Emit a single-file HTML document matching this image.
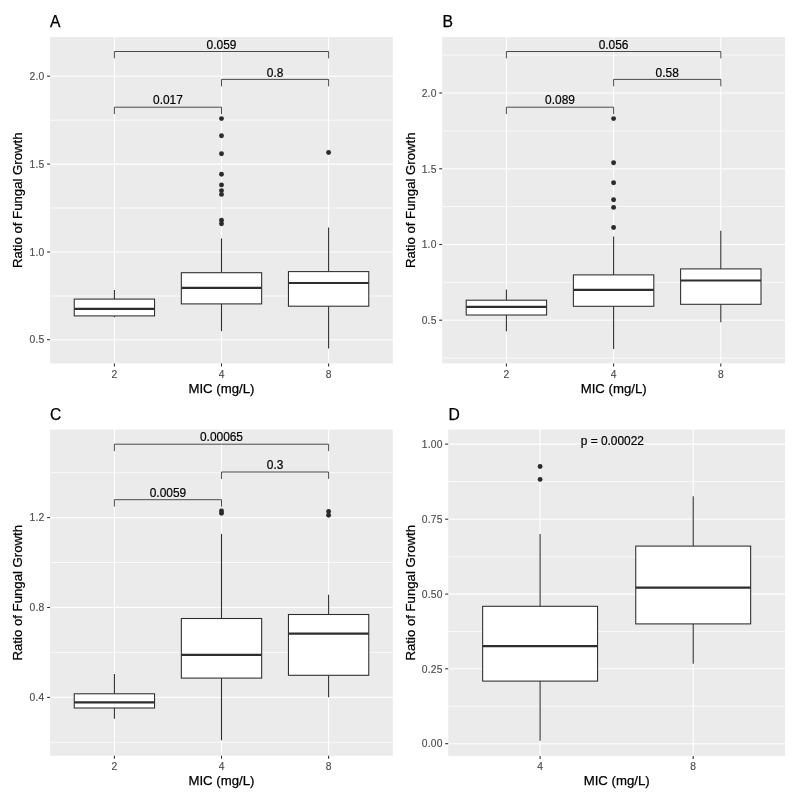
<!DOCTYPE html>
<html lang="en"><head><meta charset="utf-8"><title>Figure</title>
<style>
html,body{margin:0;padding:0;background:#fff;}
svg{display:block;font-family:"Liberation Sans", Arial, Helvetica, sans-serif;}
</style></head><body>
<svg width="796" height="795" viewBox="0 0 796 795">
<rect width="796" height="795" fill="#fff"/>
<g>
<rect x="50.1" y="37" width="342.7" height="326.4" fill="#EBEBEB"/>
<line x1="50.1" x2="392.8" y1="296" y2="296" stroke="#fff" stroke-width="0.7"/>
<line x1="50.1" x2="392.8" y1="208" y2="208" stroke="#fff" stroke-width="0.7"/>
<line x1="50.1" x2="392.8" y1="120.2" y2="120.2" stroke="#fff" stroke-width="0.7"/>
<line x1="50.1" x2="392.8" y1="339.7" y2="339.7" stroke="#fff" stroke-width="1.07"/>
<line x1="50.1" x2="392.8" y1="252" y2="252" stroke="#fff" stroke-width="1.07"/>
<line x1="50.1" x2="392.8" y1="164.1" y2="164.1" stroke="#fff" stroke-width="1.07"/>
<line x1="50.1" x2="392.8" y1="76.2" y2="76.2" stroke="#fff" stroke-width="1.07"/>
<line x1="114.4" x2="114.4" y1="37" y2="363.4" stroke="#fff" stroke-width="1.07"/>
<line x1="221.5" x2="221.5" y1="37" y2="363.4" stroke="#fff" stroke-width="1.07"/>
<line x1="328.6" x2="328.6" y1="37" y2="363.4" stroke="#fff" stroke-width="1.07"/>
<line x1="114.4" x2="114.4" y1="289.9" y2="299.1" stroke="#2e2e2e" stroke-width="1.07"/>
<line x1="114.4" x2="114.4" y1="315.9" y2="317.2" stroke="#2e2e2e" stroke-width="1.07"/>
<rect x="74.25" y="299.1" width="80.3" height="16.8" fill="#fff" stroke="#2e2e2e" stroke-width="1.07"/>
<line x1="74.25" x2="154.55" y1="308.8" y2="308.8" stroke="#2e2e2e" stroke-width="2.2"/>
<line x1="221.5" x2="221.5" y1="238.4" y2="272.7" stroke="#2e2e2e" stroke-width="1.07"/>
<line x1="221.5" x2="221.5" y1="303.9" y2="331.1" stroke="#2e2e2e" stroke-width="1.07"/>
<rect x="181.35" y="272.7" width="80.3" height="31.2" fill="#fff" stroke="#2e2e2e" stroke-width="1.07"/>
<line x1="181.35" x2="261.65" y1="287.9" y2="287.9" stroke="#2e2e2e" stroke-width="2.2"/>
<line x1="328.6" x2="328.6" y1="227.5" y2="271.6" stroke="#2e2e2e" stroke-width="1.07"/>
<line x1="328.6" x2="328.6" y1="306.2" y2="348.5" stroke="#2e2e2e" stroke-width="1.07"/>
<rect x="288.45" y="271.6" width="80.3" height="34.6" fill="#fff" stroke="#2e2e2e" stroke-width="1.07"/>
<line x1="288.45" x2="368.75" y1="283" y2="283" stroke="#2e2e2e" stroke-width="2.2"/>
<circle cx="221.5" cy="118.6" r="2.45" fill="#2b2b2b"/>
<circle cx="221.5" cy="135.8" r="2.45" fill="#2b2b2b"/>
<circle cx="221.5" cy="153.8" r="2.45" fill="#2b2b2b"/>
<circle cx="221.5" cy="174.2" r="2.45" fill="#2b2b2b"/>
<circle cx="221.5" cy="184.9" r="2.45" fill="#2b2b2b"/>
<circle cx="221.5" cy="190.6" r="2.45" fill="#2b2b2b"/>
<circle cx="221.5" cy="194.4" r="2.45" fill="#2b2b2b"/>
<circle cx="221.5" cy="220.3" r="2.45" fill="#2b2b2b"/>
<circle cx="221.5" cy="223.8" r="2.45" fill="#2b2b2b"/>
<circle cx="328.6" cy="152.5" r="2.45" fill="#2b2b2b"/>
<path d="M114.4 58.4V51.5H328.6V58.4" fill="none" stroke="#222" stroke-width="0.8"/>
<text x="221.5" y="48.7" font-size="11.9" text-anchor="middle" fill="#000" stroke="#000" stroke-width="0.2">0.059</text>
<path d="M221.5 86.3V79.4H328.6V86.3" fill="none" stroke="#222" stroke-width="0.8"/>
<text x="275.05" y="76.6" font-size="11.9" text-anchor="middle" fill="#000" stroke="#000" stroke-width="0.2">0.8</text>
<path d="M114.4 114.1V107.2H221.5V114.1" fill="none" stroke="#222" stroke-width="0.8"/>
<text x="167.95" y="104.4" font-size="11.9" text-anchor="middle" fill="#000" stroke="#000" stroke-width="0.2">0.017</text>
<line x1="47.1" x2="50.1" y1="339.7" y2="339.7" stroke="#2e2e2e" stroke-width="1.07"/>
<text x="44.5" y="343.4" font-size="10.3" letter-spacing="0.2" text-anchor="end" fill="#4D4D4D" stroke="#4D4D4D" stroke-width="0.15">0.5</text>
<line x1="47.1" x2="50.1" y1="252" y2="252" stroke="#2e2e2e" stroke-width="1.07"/>
<text x="44.5" y="255.7" font-size="10.3" letter-spacing="0.2" text-anchor="end" fill="#4D4D4D" stroke="#4D4D4D" stroke-width="0.15">1.0</text>
<line x1="47.1" x2="50.1" y1="164.1" y2="164.1" stroke="#2e2e2e" stroke-width="1.07"/>
<text x="44.5" y="167.8" font-size="10.3" letter-spacing="0.2" text-anchor="end" fill="#4D4D4D" stroke="#4D4D4D" stroke-width="0.15">1.5</text>
<line x1="47.1" x2="50.1" y1="76.2" y2="76.2" stroke="#2e2e2e" stroke-width="1.07"/>
<text x="44.5" y="79.9" font-size="10.3" letter-spacing="0.2" text-anchor="end" fill="#4D4D4D" stroke="#4D4D4D" stroke-width="0.15">2.0</text>
<line x1="114.4" x2="114.4" y1="363.4" y2="366.4" stroke="#2e2e2e" stroke-width="1.07"/>
<text x="114.4" y="377.5" font-size="10.3" text-anchor="middle" fill="#4D4D4D" stroke="#4D4D4D" stroke-width="0.15">2</text>
<line x1="221.5" x2="221.5" y1="363.4" y2="366.4" stroke="#2e2e2e" stroke-width="1.07"/>
<text x="221.5" y="377.5" font-size="10.3" text-anchor="middle" fill="#4D4D4D" stroke="#4D4D4D" stroke-width="0.15">4</text>
<line x1="328.6" x2="328.6" y1="363.4" y2="366.4" stroke="#2e2e2e" stroke-width="1.07"/>
<text x="328.6" y="377.5" font-size="10.3" text-anchor="middle" fill="#4D4D4D" stroke="#4D4D4D" stroke-width="0.15">8</text>
<text x="221.45" y="392.7" font-size="13.2" text-anchor="middle" fill="#000" stroke="#000" stroke-width="0.25">MIC (mg/L)</text>
<text transform="translate(22.4 200.2) rotate(-90)" font-size="13.2" text-anchor="middle" fill="#000" stroke="#000" stroke-width="0.25">Ratio of Fungal Growth</text>
<text x="50.1" y="27.2" font-size="15.7" fill="#000" stroke="#000" stroke-width="0.25">A</text>
</g>
<g>
<rect x="442.2" y="37" width="342.9" height="326.4" fill="#EBEBEB"/>
<line x1="442.2" x2="785.1" y1="358" y2="358" stroke="#fff" stroke-width="0.7"/>
<line x1="442.2" x2="785.1" y1="282.3" y2="282.3" stroke="#fff" stroke-width="0.7"/>
<line x1="442.2" x2="785.1" y1="206.6" y2="206.6" stroke="#fff" stroke-width="0.7"/>
<line x1="442.2" x2="785.1" y1="130.9" y2="130.9" stroke="#fff" stroke-width="0.7"/>
<line x1="442.2" x2="785.1" y1="55.1" y2="55.1" stroke="#fff" stroke-width="0.7"/>
<line x1="442.2" x2="785.1" y1="320.2" y2="320.2" stroke="#fff" stroke-width="1.07"/>
<line x1="442.2" x2="785.1" y1="244.5" y2="244.5" stroke="#fff" stroke-width="1.07"/>
<line x1="442.2" x2="785.1" y1="168.8" y2="168.8" stroke="#fff" stroke-width="1.07"/>
<line x1="442.2" x2="785.1" y1="93" y2="93" stroke="#fff" stroke-width="1.07"/>
<line x1="506.4" x2="506.4" y1="37" y2="363.4" stroke="#fff" stroke-width="1.07"/>
<line x1="613.6" x2="613.6" y1="37" y2="363.4" stroke="#fff" stroke-width="1.07"/>
<line x1="720.8" x2="720.8" y1="37" y2="363.4" stroke="#fff" stroke-width="1.07"/>
<line x1="506.4" x2="506.4" y1="289.5" y2="300.2" stroke="#2e2e2e" stroke-width="1.07"/>
<line x1="506.4" x2="506.4" y1="315" y2="331.3" stroke="#2e2e2e" stroke-width="1.07"/>
<rect x="466.2" y="300.2" width="80.4" height="14.8" fill="#fff" stroke="#2e2e2e" stroke-width="1.07"/>
<line x1="466.2" x2="546.6" y1="306.9" y2="306.9" stroke="#2e2e2e" stroke-width="2.2"/>
<line x1="613.6" x2="613.6" y1="236.6" y2="274.9" stroke="#2e2e2e" stroke-width="1.07"/>
<line x1="613.6" x2="613.6" y1="306.3" y2="349" stroke="#2e2e2e" stroke-width="1.07"/>
<rect x="573.4" y="274.9" width="80.4" height="31.4" fill="#fff" stroke="#2e2e2e" stroke-width="1.07"/>
<line x1="573.4" x2="653.8" y1="289.8" y2="289.8" stroke="#2e2e2e" stroke-width="2.2"/>
<line x1="720.8" x2="720.8" y1="230.8" y2="268.9" stroke="#2e2e2e" stroke-width="1.07"/>
<line x1="720.8" x2="720.8" y1="304.3" y2="322.2" stroke="#2e2e2e" stroke-width="1.07"/>
<rect x="680.6" y="268.9" width="80.4" height="35.4" fill="#fff" stroke="#2e2e2e" stroke-width="1.07"/>
<line x1="680.6" x2="761" y1="280.5" y2="280.5" stroke="#2e2e2e" stroke-width="2.2"/>
<circle cx="613.6" cy="118.6" r="2.45" fill="#2b2b2b"/>
<circle cx="613.6" cy="162.7" r="2.45" fill="#2b2b2b"/>
<circle cx="613.6" cy="182.8" r="2.45" fill="#2b2b2b"/>
<circle cx="613.6" cy="199.7" r="2.45" fill="#2b2b2b"/>
<circle cx="613.6" cy="207.4" r="2.45" fill="#2b2b2b"/>
<circle cx="613.6" cy="227.5" r="2.45" fill="#2b2b2b"/>
<path d="M506.4 58.4V51.5H720.8V58.4" fill="none" stroke="#222" stroke-width="0.8"/>
<text x="613.6" y="48.7" font-size="11.9" text-anchor="middle" fill="#000" stroke="#000" stroke-width="0.2">0.056</text>
<path d="M613.6 86.3V79.4H720.8V86.3" fill="none" stroke="#222" stroke-width="0.8"/>
<text x="667.2" y="76.6" font-size="11.9" text-anchor="middle" fill="#000" stroke="#000" stroke-width="0.2">0.58</text>
<path d="M506.4 114.1V107.2H613.6V114.1" fill="none" stroke="#222" stroke-width="0.8"/>
<text x="560" y="104.4" font-size="11.9" text-anchor="middle" fill="#000" stroke="#000" stroke-width="0.2">0.089</text>
<line x1="439.2" x2="442.2" y1="320.2" y2="320.2" stroke="#2e2e2e" stroke-width="1.07"/>
<text x="436.6" y="323.9" font-size="10.3" letter-spacing="0.2" text-anchor="end" fill="#4D4D4D" stroke="#4D4D4D" stroke-width="0.15">0.5</text>
<line x1="439.2" x2="442.2" y1="244.5" y2="244.5" stroke="#2e2e2e" stroke-width="1.07"/>
<text x="436.6" y="248.2" font-size="10.3" letter-spacing="0.2" text-anchor="end" fill="#4D4D4D" stroke="#4D4D4D" stroke-width="0.15">1.0</text>
<line x1="439.2" x2="442.2" y1="168.8" y2="168.8" stroke="#2e2e2e" stroke-width="1.07"/>
<text x="436.6" y="172.5" font-size="10.3" letter-spacing="0.2" text-anchor="end" fill="#4D4D4D" stroke="#4D4D4D" stroke-width="0.15">1.5</text>
<line x1="439.2" x2="442.2" y1="93" y2="93" stroke="#2e2e2e" stroke-width="1.07"/>
<text x="436.6" y="96.7" font-size="10.3" letter-spacing="0.2" text-anchor="end" fill="#4D4D4D" stroke="#4D4D4D" stroke-width="0.15">2.0</text>
<line x1="506.4" x2="506.4" y1="363.4" y2="366.4" stroke="#2e2e2e" stroke-width="1.07"/>
<text x="506.4" y="377.5" font-size="10.3" text-anchor="middle" fill="#4D4D4D" stroke="#4D4D4D" stroke-width="0.15">2</text>
<line x1="613.6" x2="613.6" y1="363.4" y2="366.4" stroke="#2e2e2e" stroke-width="1.07"/>
<text x="613.6" y="377.5" font-size="10.3" text-anchor="middle" fill="#4D4D4D" stroke="#4D4D4D" stroke-width="0.15">4</text>
<line x1="720.8" x2="720.8" y1="363.4" y2="366.4" stroke="#2e2e2e" stroke-width="1.07"/>
<text x="720.8" y="377.5" font-size="10.3" text-anchor="middle" fill="#4D4D4D" stroke="#4D4D4D" stroke-width="0.15">8</text>
<text x="613.65" y="392.7" font-size="13.2" text-anchor="middle" fill="#000" stroke="#000" stroke-width="0.25">MIC (mg/L)</text>
<text transform="translate(414.8 200.2) rotate(-90)" font-size="13.2" text-anchor="middle" fill="#000" stroke="#000" stroke-width="0.25">Ratio of Fungal Growth</text>
<text x="442.6" y="27.2" font-size="15.7" fill="#000" stroke="#000" stroke-width="0.25">B</text>
</g>
<g>
<rect x="50.1" y="429.6" width="342.7" height="326.2" fill="#EBEBEB"/>
<line x1="50.1" x2="392.8" y1="742.3" y2="742.3" stroke="#fff" stroke-width="0.7"/>
<line x1="50.1" x2="392.8" y1="652.4" y2="652.4" stroke="#fff" stroke-width="0.7"/>
<line x1="50.1" x2="392.8" y1="562.5" y2="562.5" stroke="#fff" stroke-width="0.7"/>
<line x1="50.1" x2="392.8" y1="472.7" y2="472.7" stroke="#fff" stroke-width="0.7"/>
<line x1="50.1" x2="392.8" y1="697.4" y2="697.4" stroke="#fff" stroke-width="1.07"/>
<line x1="50.1" x2="392.8" y1="607.5" y2="607.5" stroke="#fff" stroke-width="1.07"/>
<line x1="50.1" x2="392.8" y1="517.6" y2="517.6" stroke="#fff" stroke-width="1.07"/>
<line x1="114.4" x2="114.4" y1="429.6" y2="755.8" stroke="#fff" stroke-width="1.07"/>
<line x1="221.5" x2="221.5" y1="429.6" y2="755.8" stroke="#fff" stroke-width="1.07"/>
<line x1="328.6" x2="328.6" y1="429.6" y2="755.8" stroke="#fff" stroke-width="1.07"/>
<line x1="114.4" x2="114.4" y1="674.1" y2="693.8" stroke="#2e2e2e" stroke-width="1.07"/>
<line x1="114.4" x2="114.4" y1="708" y2="718.8" stroke="#2e2e2e" stroke-width="1.07"/>
<rect x="74.25" y="693.8" width="80.3" height="14.2" fill="#fff" stroke="#2e2e2e" stroke-width="1.07"/>
<line x1="74.25" x2="154.55" y1="702.4" y2="702.4" stroke="#2e2e2e" stroke-width="2.2"/>
<line x1="221.5" x2="221.5" y1="533.9" y2="618.5" stroke="#2e2e2e" stroke-width="1.07"/>
<line x1="221.5" x2="221.5" y1="678.1" y2="740.3" stroke="#2e2e2e" stroke-width="1.07"/>
<rect x="181.35" y="618.5" width="80.3" height="59.6" fill="#fff" stroke="#2e2e2e" stroke-width="1.07"/>
<line x1="181.35" x2="261.65" y1="654.8" y2="654.8" stroke="#2e2e2e" stroke-width="2.2"/>
<line x1="328.6" x2="328.6" y1="594.7" y2="614.5" stroke="#2e2e2e" stroke-width="1.07"/>
<line x1="328.6" x2="328.6" y1="675.3" y2="697.2" stroke="#2e2e2e" stroke-width="1.07"/>
<rect x="288.45" y="614.5" width="80.3" height="60.8" fill="#fff" stroke="#2e2e2e" stroke-width="1.07"/>
<line x1="288.45" x2="368.75" y1="633.6" y2="633.6" stroke="#2e2e2e" stroke-width="2.2"/>
<circle cx="221.5" cy="511" r="2.45" fill="#2b2b2b"/>
<circle cx="221.5" cy="513.3" r="2.45" fill="#2b2b2b"/>
<circle cx="328.6" cy="511.4" r="2.45" fill="#2b2b2b"/>
<circle cx="328.6" cy="515.3" r="2.45" fill="#2b2b2b"/>
<path d="M114.4 451.1V444.2H328.6V451.1" fill="none" stroke="#222" stroke-width="0.8"/>
<text x="221.5" y="441.4" font-size="11.9" text-anchor="middle" fill="#000" stroke="#000" stroke-width="0.2">0.00065</text>
<path d="M221.5 478.9V472H328.6V478.9" fill="none" stroke="#222" stroke-width="0.8"/>
<text x="275.05" y="469.2" font-size="11.9" text-anchor="middle" fill="#000" stroke="#000" stroke-width="0.2">0.3</text>
<path d="M114.4 506.6V499.7H221.5V506.6" fill="none" stroke="#222" stroke-width="0.8"/>
<text x="167.95" y="496.9" font-size="11.9" text-anchor="middle" fill="#000" stroke="#000" stroke-width="0.2">0.0059</text>
<line x1="47.1" x2="50.1" y1="697.4" y2="697.4" stroke="#2e2e2e" stroke-width="1.07"/>
<text x="44.5" y="701.1" font-size="10.3" letter-spacing="0.2" text-anchor="end" fill="#4D4D4D" stroke="#4D4D4D" stroke-width="0.15">0.4</text>
<line x1="47.1" x2="50.1" y1="607.5" y2="607.5" stroke="#2e2e2e" stroke-width="1.07"/>
<text x="44.5" y="611.2" font-size="10.3" letter-spacing="0.2" text-anchor="end" fill="#4D4D4D" stroke="#4D4D4D" stroke-width="0.15">0.8</text>
<line x1="47.1" x2="50.1" y1="517.6" y2="517.6" stroke="#2e2e2e" stroke-width="1.07"/>
<text x="44.5" y="521.3" font-size="10.3" letter-spacing="0.2" text-anchor="end" fill="#4D4D4D" stroke="#4D4D4D" stroke-width="0.15">1.2</text>
<line x1="114.4" x2="114.4" y1="755.8" y2="758.8" stroke="#2e2e2e" stroke-width="1.07"/>
<text x="114.4" y="769.9" font-size="10.3" text-anchor="middle" fill="#4D4D4D" stroke="#4D4D4D" stroke-width="0.15">2</text>
<line x1="221.5" x2="221.5" y1="755.8" y2="758.8" stroke="#2e2e2e" stroke-width="1.07"/>
<text x="221.5" y="769.9" font-size="10.3" text-anchor="middle" fill="#4D4D4D" stroke="#4D4D4D" stroke-width="0.15">4</text>
<line x1="328.6" x2="328.6" y1="755.8" y2="758.8" stroke="#2e2e2e" stroke-width="1.07"/>
<text x="328.6" y="769.9" font-size="10.3" text-anchor="middle" fill="#4D4D4D" stroke="#4D4D4D" stroke-width="0.15">8</text>
<text x="221.45" y="785.1" font-size="13.2" text-anchor="middle" fill="#000" stroke="#000" stroke-width="0.25">MIC (mg/L)</text>
<text transform="translate(22.4 592.7) rotate(-90)" font-size="13.2" text-anchor="middle" fill="#000" stroke="#000" stroke-width="0.25">Ratio of Fungal Growth</text>
<text x="50.1" y="419.7" font-size="15.7" fill="#000" stroke="#000" stroke-width="0.25">C</text>
</g>
<g>
<rect x="448.2" y="429.6" width="336.9" height="326.3" fill="#EBEBEB"/>
<line x1="448.2" x2="785.1" y1="706.2" y2="706.2" stroke="#fff" stroke-width="0.7"/>
<line x1="448.2" x2="785.1" y1="631.5" y2="631.5" stroke="#fff" stroke-width="0.7"/>
<line x1="448.2" x2="785.1" y1="556.7" y2="556.7" stroke="#fff" stroke-width="0.7"/>
<line x1="448.2" x2="785.1" y1="481.6" y2="481.6" stroke="#fff" stroke-width="0.7"/>
<line x1="448.2" x2="785.1" y1="743.7" y2="743.7" stroke="#fff" stroke-width="1.07"/>
<line x1="448.2" x2="785.1" y1="668.8" y2="668.8" stroke="#fff" stroke-width="1.07"/>
<line x1="448.2" x2="785.1" y1="594.1" y2="594.1" stroke="#fff" stroke-width="1.07"/>
<line x1="448.2" x2="785.1" y1="519.2" y2="519.2" stroke="#fff" stroke-width="1.07"/>
<line x1="448.2" x2="785.1" y1="444.1" y2="444.1" stroke="#fff" stroke-width="1.07"/>
<line x1="540.1" x2="540.1" y1="429.6" y2="755.9" stroke="#fff" stroke-width="1.07"/>
<line x1="693.2" x2="693.2" y1="429.6" y2="755.9" stroke="#fff" stroke-width="1.07"/>
<line x1="540.1" x2="540.1" y1="534" y2="606.3" stroke="#2e2e2e" stroke-width="1.07"/>
<line x1="540.1" x2="540.1" y1="681.1" y2="740.7" stroke="#2e2e2e" stroke-width="1.07"/>
<rect x="482.65" y="606.3" width="114.9" height="74.8" fill="#fff" stroke="#2e2e2e" stroke-width="1.07"/>
<line x1="482.65" x2="597.55" y1="646.2" y2="646.2" stroke="#2e2e2e" stroke-width="2.2"/>
<line x1="693.2" x2="693.2" y1="496.3" y2="546.1" stroke="#2e2e2e" stroke-width="1.07"/>
<line x1="693.2" x2="693.2" y1="623.9" y2="663.8" stroke="#2e2e2e" stroke-width="1.07"/>
<rect x="635.75" y="546.1" width="114.9" height="77.8" fill="#fff" stroke="#2e2e2e" stroke-width="1.07"/>
<line x1="635.75" x2="750.65" y1="587.7" y2="587.7" stroke="#2e2e2e" stroke-width="2.2"/>
<circle cx="540.1" cy="466.5" r="2.45" fill="#2b2b2b"/>
<circle cx="540.1" cy="479.4" r="2.45" fill="#2b2b2b"/>
<text x="612.3" y="444.6" font-size="11.9" text-anchor="middle" fill="#000" stroke="#000" stroke-width="0.2">p = 0.00022</text>
<line x1="445.2" x2="448.2" y1="743.7" y2="743.7" stroke="#2e2e2e" stroke-width="1.07"/>
<text x="442.6" y="747.4" font-size="10.3" letter-spacing="0.2" text-anchor="end" fill="#4D4D4D" stroke="#4D4D4D" stroke-width="0.15">0.00</text>
<line x1="445.2" x2="448.2" y1="668.8" y2="668.8" stroke="#2e2e2e" stroke-width="1.07"/>
<text x="442.6" y="672.5" font-size="10.3" letter-spacing="0.2" text-anchor="end" fill="#4D4D4D" stroke="#4D4D4D" stroke-width="0.15">0.25</text>
<line x1="445.2" x2="448.2" y1="594.1" y2="594.1" stroke="#2e2e2e" stroke-width="1.07"/>
<text x="442.6" y="597.8" font-size="10.3" letter-spacing="0.2" text-anchor="end" fill="#4D4D4D" stroke="#4D4D4D" stroke-width="0.15">0.50</text>
<line x1="445.2" x2="448.2" y1="519.2" y2="519.2" stroke="#2e2e2e" stroke-width="1.07"/>
<text x="442.6" y="522.9" font-size="10.3" letter-spacing="0.2" text-anchor="end" fill="#4D4D4D" stroke="#4D4D4D" stroke-width="0.15">0.75</text>
<line x1="445.2" x2="448.2" y1="444.1" y2="444.1" stroke="#2e2e2e" stroke-width="1.07"/>
<text x="442.6" y="447.8" font-size="10.3" letter-spacing="0.2" text-anchor="end" fill="#4D4D4D" stroke="#4D4D4D" stroke-width="0.15">1.00</text>
<line x1="540.1" x2="540.1" y1="755.9" y2="758.9" stroke="#2e2e2e" stroke-width="1.07"/>
<text x="540.1" y="770" font-size="10.3" text-anchor="middle" fill="#4D4D4D" stroke="#4D4D4D" stroke-width="0.15">4</text>
<line x1="693.2" x2="693.2" y1="755.9" y2="758.9" stroke="#2e2e2e" stroke-width="1.07"/>
<text x="693.2" y="770" font-size="10.3" text-anchor="middle" fill="#4D4D4D" stroke="#4D4D4D" stroke-width="0.15">8</text>
<text x="616.65" y="785.2" font-size="13.2" text-anchor="middle" fill="#000" stroke="#000" stroke-width="0.25">MIC (mg/L)</text>
<text transform="translate(414.8 592.75) rotate(-90)" font-size="13.2" text-anchor="middle" fill="#000" stroke="#000" stroke-width="0.25">Ratio of Fungal Growth</text>
<text x="448.6" y="419.7" font-size="15.7" fill="#000" stroke="#000" stroke-width="0.25">D</text>
</g>
</svg>
</body></html>
